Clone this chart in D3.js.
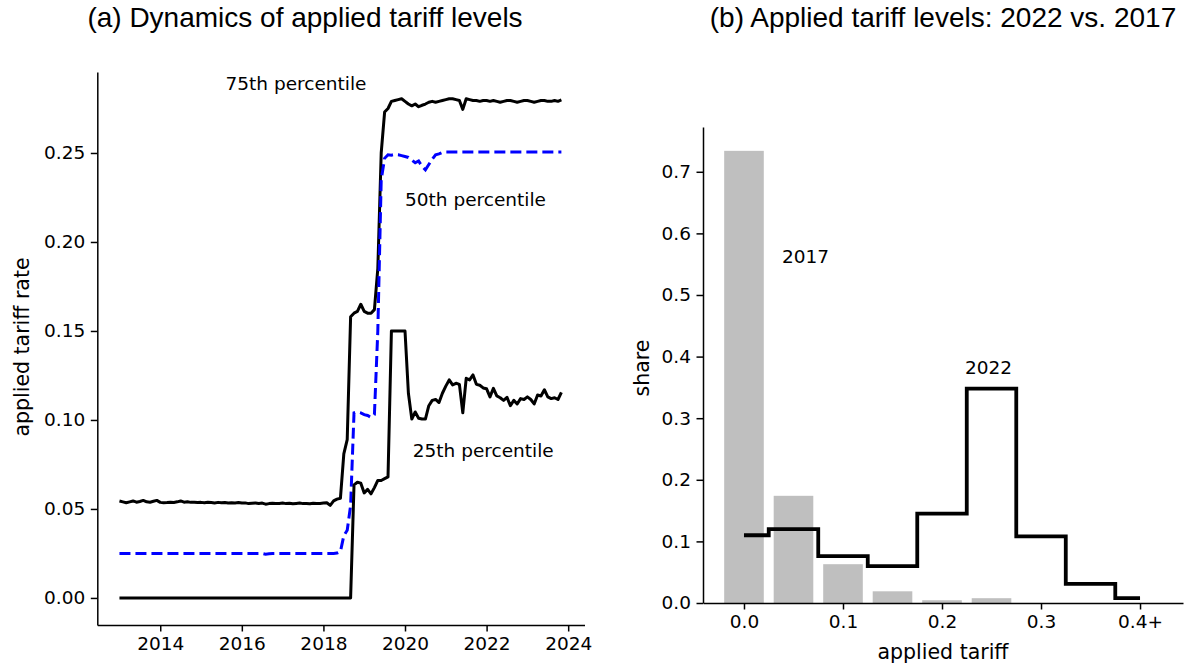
<!DOCTYPE html>
<html>
<head>
<meta charset="utf-8">
<script src="https://cdn.jsdelivr.net/npm/d3@7"></script>
<style>
  html, body { margin: 0; padding: 0; background: #fff; }
  svg { display: block; }
  .tick text { font-family: "DejaVu Sans", sans-serif; font-size: 18.5px; fill: #000; }
  .axis path, .axis line { stroke: #000; stroke-width: 1.5px; }
  .lab { font-family: "DejaVu Sans", sans-serif; font-size: 20.5px; fill: #000; }
  .note { font-family: "DejaVu Sans", sans-serif; font-size: 18.5px; fill: #000; }
  .title { font-family: "Liberation Sans", Arial, sans-serif; font-size: 28px; fill: #000; }
</style>
</head>
<body>
<svg id="chart" width="1186" height="668"></svg>
<script>
// ---- Panel (a): monthly applied tariff percentiles, Jan 2013 onward ----
const firstYear = 2013;
const p75 = [
  0.0545,0.0540,0.0535,0.0540,0.0545,0.0538,0.0542,0.0548,0.0540,0.0538,
  0.0543,0.0548,0.0537,0.0535,0.0536,0.0538,0.0536,0.0540,0.0545,0.0538,
  0.0540,0.0537,0.0538,0.0536,0.0537,0.0535,0.0538,0.0536,0.0534,0.0537,
  0.0535,0.0536,0.0533,0.0535,0.0534,0.0536,0.0533,0.0534,0.0530,0.0532,
  0.0534,0.0531,0.0533,0.0527,0.0530,0.0532,0.0530,0.0531,0.0533,0.0530,
  0.0532,0.0529,0.0531,0.0533,0.0530,0.0531,0.0529,0.0532,0.0530,0.0531,
  0.0533,0.0535,0.0520,0.0545,0.0555,0.0560,0.0810,0.0890,0.1580,0.1600,
  0.1610,0.1650,0.1610,0.1600,0.1600,0.1620,0.1850,0.2500,0.2730,0.2750,
  0.2790,0.2795,0.2800,0.2805,0.2790,0.2775,0.2765,0.2775,0.2760,0.2768,
  0.2775,0.2785,0.2790,0.2785,0.2790,0.2795,0.2800,0.2805,0.2805,0.2800,
  0.2795,0.2745,0.2805,0.2800,0.2795,0.2795,0.2790,0.2795,0.2795,0.2790,
  0.2795,0.2790,0.2785,0.2790,0.2795,0.2795,0.2790,0.2785,0.2790,0.2795,
  0.2795,0.2790,0.2785,0.2790,0.2795,0.2795,0.2790,0.2790,0.2795,0.2790,
  0.2798
];
const p50 = [
  0.0250,0.0250,0.0250,0.0250,0.0250,0.0250,0.0250,0.0250,0.0250,0.0250,
  0.0250,0.0250,0.0250,0.0250,0.0250,0.0250,0.0250,0.0250,0.0250,0.0250,
  0.0250,0.0250,0.0250,0.0250,0.0250,0.0250,0.0250,0.0250,0.0250,0.0250,
  0.0250,0.0250,0.0250,0.0250,0.0250,0.0250,0.0250,0.0250,0.0250,0.0250,
  0.0250,0.0250,0.0250,0.0246,0.0248,0.0250,0.0250,0.0250,0.0250,0.0250,
  0.0250,0.0250,0.0250,0.0250,0.0250,0.0250,0.0250,0.0250,0.0250,0.0250,
  0.0250,0.0250,0.0250,0.0250,0.0252,0.0260,0.0350,0.0380,0.0520,0.1040,
  0.1045,0.1040,0.1030,0.1025,0.1015,0.1030,0.1500,0.2350,0.2470,0.2490,
  0.2488,0.2492,0.2490,0.2485,0.2480,0.2475,0.2460,0.2445,0.2455,0.2425,
  0.2405,0.2435,0.2465,0.2490,0.2495,0.2503,0.2505,0.2505,0.2505,0.2505,
  0.2505,0.2505,0.2505,0.2505,0.2505,0.2505,0.2505,0.2505,0.2505,0.2505,
  0.2505,0.2505,0.2505,0.2505,0.2505,0.2505,0.2505,0.2505,0.2505,0.2505,
  0.2505,0.2505,0.2505,0.2505,0.2505,0.2505,0.2505,0.2505,0.2505,0.2505,
  0.2505
];
const p25 = [
  0,0,0,0,0,0,0,0,0,0,
  0,0,0,0,0,0,0,0,0,0,
  0,0,0,0,0,0,0,0,0,0,
  0,0,0,0,0,0,0,0,0,0,
  0,0,0,0,0,0,0,0,0,0,
  0,0,0,0,0,0,0,0,0,0,
  0,0,0,0,0,0,0,0,0,0.0635,
  0.0650,0.0645,0.0590,0.0610,0.0585,0.0620,0.0660,0.0660,0.0670,0.0680,
  0.1500,0.1500,0.1500,0.1500,0.1500,0.1150,0.1005,0.1045,0.1010,0.1005,
  0.1005,0.1080,0.1110,0.1115,0.1098,0.1150,0.1190,0.1225,0.1197,0.1206,
  0.1200,0.1040,0.1234,0.1225,0.1253,0.1200,0.1195,0.1180,0.1175,0.1130,
  0.1178,0.1135,0.1125,0.1110,0.1127,0.1080,0.1110,0.1090,0.1120,0.1115,
  0.1130,0.1115,0.1090,0.1140,0.1135,0.1170,0.1130,0.1120,0.1125,0.1115,
  0.1155
];
const yearTicks = [2014, 2016, 2018, 2020, 2022, 2024];
const rateTicks = [0.00, 0.05, 0.10, 0.15, 0.20, 0.25];

// ---- Panel (b): distribution of applied tariffs ----
const binCenters = [0.00, 0.05, 0.10, 0.15, 0.20, 0.25, 0.30, 0.35, 0.40];
const share2017 = [0.734, 0.174, 0.063, 0.019, 0.0045, 0.0078, 0, 0, 0];
const share2022 = [0.110, 0.120, 0.076, 0.060, 0.145, 0.348, 0.108, 0.031, 0.008];
const tariffTicks = [0.0, 0.1, 0.2, 0.3, 0.4];
const tariffTickLabels = ["0.0", "0.1", "0.2", "0.3", "0.4+"];
const shareTicks = [0.0, 0.1, 0.2, 0.3, 0.4, 0.5, 0.6, 0.7];

const svg = d3.select("#chart");

// ===== Panel (a) =====
const months = p75.map((_, i) => firstYear + i / 12);
const xA = d3.scaleLinear().domain([2012.457, 2024.40]).range([97.3, 584.5]);
const yA = d3.scaleLinear().domain([-0.0152, 0.2955]).range([625, 72]);

const gA = svg.append("g");
gA.append("g").attr("class", "axis")
  .attr("transform", "translate(0,625)")
  .call(d3.axisBottom(xA).tickValues(yearTicks).tickFormat(d3.format("d"))
        .tickSizeInner(6.5).tickSizeOuter(0).tickPadding(5.5));
gA.append("g").attr("class", "axis")
  .attr("transform", "translate(97.3,0)")
  .call(d3.axisLeft(yA).tickValues(rateTicks).tickFormat(d3.format(".2f"))
        .tickSizeInner(6.5).tickSizeOuter(0).tickPadding(5.5));

const lineA = vals => d3.line()
  .x((d, i) => xA(months[i]))
  .y(d => yA(d))(vals);

gA.append("path").attr("d", lineA(p75))
  .attr("fill", "none").attr("stroke", "#000").attr("stroke-width", 3)
  .attr("stroke-linejoin", "round");
gA.append("path").attr("d", lineA(p50))
  .attr("fill", "none").attr("stroke", "#0000ff").attr("stroke-width", 3)
  .attr("stroke-dasharray", "11,5");
gA.append("path").attr("d", lineA(p25))
  .attr("fill", "none").attr("stroke", "#000").attr("stroke-width", 3)
  .attr("stroke-linejoin", "round");

gA.append("text").attr("class", "note")
  .attr("x", xA(2015.6)).attr("y", yA(0.2888)).attr("dy", "0.35em")
  .text("75th percentile");
gA.append("text").attr("class", "note")
  .attr("x", xA(2020.0)).attr("y", yA(0.2236)).attr("dy", "0.35em")
  .text("50th percentile");
gA.append("text").attr("class", "note")
  .attr("x", xA(2020.19)).attr("y", yA(0.0831)).attr("dy", "0.35em")
  .text("25th percentile");

gA.append("text").attr("class", "lab")
  .attr("transform", "translate(22,347) rotate(-90)")
  .attr("text-anchor", "middle").attr("dy", "0.35em")
  .text("applied tariff rate");

svg.append("text").attr("class", "title")
  .attr("x", 305).attr("y", 27).attr("text-anchor", "middle")
  .text("(a) Dynamics of applied tariff levels");

// ===== Panel (b) =====
const xB = d3.scaleLinear().domain([-0.0414, 0.4434]).range([703, 1183]);
const yB = d3.scaleLinear().domain([0, 0.7727]).range([603, 127]);
const barW = 0.04;

const gB = svg.append("g");
gB.selectAll("rect.bar").data(binCenters.map((c, i) => ({ c, v: share2017[i] })))
  .join("rect").attr("class", "bar")
  .attr("x", d => xB(d.c - barW / 2))
  .attr("width", d => xB(d.c + barW / 2) - xB(d.c - barW / 2))
  .attr("y", d => yB(d.v))
  .attr("height", d => yB(0) - yB(d.v))
  .attr("fill", "#bfbfbf");

gB.append("g").attr("class", "axis")
  .attr("transform", "translate(0,603)")
  .call(d3.axisBottom(xB).tickValues(tariffTicks)
        .tickFormat((d, i) => tariffTickLabels[i])
        .tickSizeInner(6.5).tickSizeOuter(0).tickPadding(5.5));
gB.append("g").attr("class", "axis")
  .attr("transform", "translate(703,0)")
  .call(d3.axisLeft(yB).tickValues(shareTicks).tickFormat(d3.format(".1f"))
        .tickSizeInner(6.5).tickSizeOuter(0).tickPadding(5.5));

gB.append("path")
  .attr("d", d3.line().curve(d3.curveStep)
    .x((d, i) => xB(binCenters[i])).y(d => yB(d))(share2022))
  .attr("fill", "none").attr("stroke", "#000").attr("stroke-width", 3.8)
  .attr("stroke-linejoin", "miter");

gB.append("text").attr("class", "note")
  .attr("x", xB(0.0384)).attr("y", yB(0.5617)).attr("dy", "0.35em")
  .text("2017");
gB.append("text").attr("class", "note")
  .attr("x", xB(0.2232)).attr("y", yB(0.3815)).attr("dy", "0.35em")
  .text("2022");

gB.append("text").attr("class", "lab")
  .attr("x", 943).attr("y", 652).attr("text-anchor", "middle").attr("dy", "0.35em")
  .text("applied tariff");
gB.append("text").attr("class", "lab")
  .attr("transform", "translate(642,368) rotate(-90)")
  .attr("text-anchor", "middle").attr("dy", "0.35em")
  .text("share");

svg.append("text").attr("class", "title")
  .attr("x", 943).attr("y", 27).attr("text-anchor", "middle")
  .text("(b) Applied tariff levels: 2022 vs. 2017");
</script>
</body>
</html>
